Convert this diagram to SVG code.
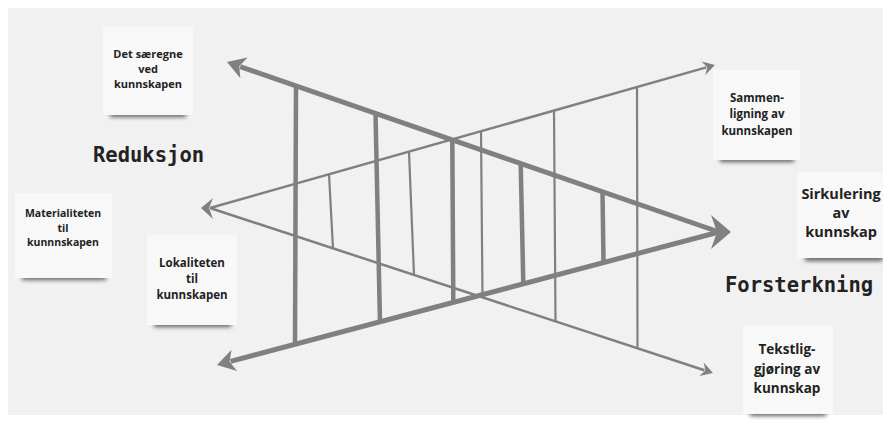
<svg xmlns="http://www.w3.org/2000/svg" width="883" height="421" viewBox="0 0 883 421">
<defs>
<style>
.bg{fill:#f1f1f1}
.card{fill:#f8f8f8}
.shadow{fill:#333;opacity:.75;filter:url(#blur)}
.nt{font-family:"Open Sans","Liberation Sans",sans-serif;font-weight:700;fill:#222;text-anchor:middle}
.head{font-family:"DejaVu Sans Mono","Liberation Mono",monospace;font-weight:700;font-size:20.5px;fill:#222}
.ln{stroke:#808080;fill:none;stroke-linecap:butt}
.thick{stroke-width:5}
.thin{stroke-width:2.5}
.rk{stroke-width:4.5}
.rn{stroke-width:2.2}
.head-fill{fill:#808080}
</style>
<filter id="blur" x="-20%" y="-200%" width="140%" height="500%"><feGaussianBlur stdDeviation="2.2"/></filter>
<marker id="ahK" markerUnits="userSpaceOnUse" viewBox="-2 -12 22 24" markerWidth="22" markerHeight="24" refX="4" refY="0" orient="auto-start-reverse"><path d="M0,-11 L18,0 L0,11 L5,0 Z" fill="#808080"/></marker>
<marker id="ahN" markerUnits="userSpaceOnUse" viewBox="-2 -9 16 18" markerWidth="16" markerHeight="18" refX="3" refY="0" orient="auto"><path d="M0,-7 L12,0 L0,7 L4,0 Z" fill="#808080"/></marker>
</defs>
<rect width="883" height="421" fill="#ffffff"/>
<rect class="bg" x="8" y="8" width="875" height="407"/>

<g id="connectors">
  <line class="ln thick" x1="240.2" y1="66.6" x2="719" y2="232" marker-start="url(#ahK)"/>
  <line class="ln thick" x1="230.5" y1="361.4" x2="719" y2="232" marker-start="url(#ahK)"/>
  <polygon class="head-fill" points="731,232 711,215 717,232 711,249"/>
  <line class="ln thin" x1="210" y1="208" x2="706.3" y2="67.4" marker-end="url(#ahN)"/>
  <line class="ln thin" x1="210" y1="208" x2="704.4" y2="370.2" marker-end="url(#ahN)"/>
  <polygon class="head-fill" points="201,208 213,198 209,208 213,219"/>
  <line class="ln rk" x1="296" y1="85.9" x2="295" y2="344"/>
  <line class="ln rk" x1="375.5" y1="113.4" x2="380" y2="322.8"/>
  <line class="ln rk" x1="452.3" y1="140" x2="453.3" y2="302.5"/>
  <line class="ln rk" x1="520.7" y1="163.7" x2="523.3" y2="283.8"/>
  <line class="ln rk" x1="602.5" y1="192" x2="603.5" y2="262.3"/>
  <line class="ln rn" x1="329" y1="174" x2="333" y2="248.6"/>
  <line class="ln rn" x1="409" y1="151.6" x2="414" y2="275.1"/>
  <line class="ln rn" x1="481" y1="131.1" x2="482.5" y2="297.6"/>
  <line class="ln rn" x1="554" y1="110.5" x2="555.5" y2="321.4"/>
  <line class="ln rn" x1="637" y1="87" x2="637.5" y2="348.2"/>
</g>

<g id="heading-reduksjon"><text class="head" x="93" y="162">Reduksjon</text></g>
<g id="heading-forsterkning"><text class="head" x="725" y="292">Forsterkning</text></g>

<g id="note-saeregne">
  <rect class="shadow" x="110" y="111" width="76" height="6"/>
  <rect class="card" x="103" y="27" width="90" height="88"/>
  <text class="nt" font-size="11" x="148" y="57.5">Det særegne</text>
  <text class="nt" font-size="11" x="148" y="72.5">ved</text>
  <text class="nt" font-size="11" x="148" y="87.5">kunnskapen</text>
</g>

<g id="note-materialiteten">
  <rect class="shadow" x="22" y="274" width="84" height="6"/>
  <rect class="card" x="15" y="193" width="97" height="85"/>
  <text class="nt" font-size="10.5" x="63" y="217">Materialiteten</text>
  <text class="nt" font-size="10.5" x="63" y="231.5">til</text>
  <text class="nt" font-size="10.5" x="63" y="246">kunnnskapen</text>
</g>

<g id="note-lokaliteten">
  <rect class="shadow" x="154" y="321" width="77" height="6"/>
  <rect class="card" x="147" y="235" width="90" height="90"/>
  <text class="nt" font-size="11.5" x="192" y="267">Lokaliteten</text>
  <text class="nt" font-size="11.5" x="192" y="282.5">til</text>
  <text class="nt" font-size="11.5" x="192" y="298.5">kunnskapen</text>
</g>

<g id="note-sammenligning">
  <rect class="shadow" x="720" y="156" width="74" height="6"/>
  <rect class="card" x="713" y="70" width="87" height="90"/>
  <text class="nt" font-size="11.5" x="757" y="102">Sammen-</text>
  <text class="nt" font-size="11.5" x="757" y="118">ligning av</text>
  <text class="nt" font-size="11.5" x="757" y="134.5">kunnskapen</text>
</g>

<g id="note-sirkulering">
  <rect class="shadow" x="805" y="255" width="78" height="6"/>
  <rect class="card" x="797" y="172" width="86" height="86"/>
  <text class="nt" font-size="14.5" x="841" y="199">Sirkulering</text>
  <text class="nt" font-size="14.5" x="841" y="218">av</text>
  <text class="nt" font-size="14.5" x="841" y="237">kunnskap</text>
</g>

<g id="note-tekstliggjoring">
  <rect class="shadow" x="750" y="410" width="76" height="6"/>
  <rect class="card" x="743" y="325" width="90" height="89"/>
  <text class="nt" font-size="13.5" x="787" y="354">Tekstlig-</text>
  <text class="nt" font-size="13.5" x="787" y="374">gjøring av</text>
  <text class="nt" font-size="13.5" x="787" y="393">kunnskap</text>
</g>
</svg>
